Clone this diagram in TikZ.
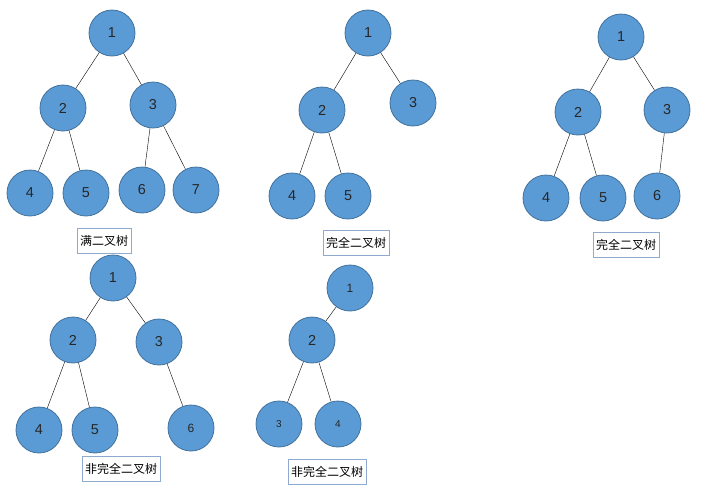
\documentclass[tikz,border=0pt]{standalone}
\usepackage{fontspec}
\newfontfamily\cjk{Noto Sans CJK SC}
\setmainfont{Liberation Sans}
\definecolor{nodefill}{HTML}{5B9BD5}
\definecolor{nodeline}{HTML}{41719C}
\definecolor{boxline}{HTML}{8FAACC}
\begin{document}
\begin{tikzpicture}[x=1pt,y=-1pt,
	vtx/.style={circle,fill=nodefill,draw=nodeline,line width=0.8pt,minimum size=46pt,inner sep=0pt,font=\Large,text=black!85},
	tag/.style={draw=boxline,fill=white,font=\cjk\large,inner sep=3pt,minimum height=25pt}]
	\useasboundingbox (0,0) rectangle (708,491);
	%满二叉树
	\node[vtx] (a1) at (112,33) {1};
	\node[vtx] (a2) at (63,108) {2};
	\node[vtx] (a3) at (153,105) {3};
	\node[vtx] (a4) at (30,193) {4};
	\node[vtx] (a5) at (86,193) {5};
	\node[vtx] (a6) at (142,190) {6};
	\node[vtx] (a7) at (196,190) {7};
	\foreach \p/\c in {a1/a2,a1/a3,a2/a4,a2/a5,a3/a6,a3/a7}{
		\draw (\p) -- (\c);
	}
	\node[tag] (ta) at (104,241) {满二叉树};
	%完全二叉树
	\node[vtx] (b1) at (368,33) {1};
	\node[vtx] (b2) at (322,110) {2};
	\node[vtx] (b3) at (413,103) {3};
	\node[vtx] (b4) at (292,196) {4};
	\node[vtx] (b5) at (348,196) {5};
	\foreach \p/\c in {b1/b2,b1/b3,b2/b4,b2/b5}{
		\draw (\p) -- (\c);
	}
	\node[tag] (tb) at (356,243) {完全二叉树};
	%完全二叉树
	\node[vtx] (c1) at (621,37) {1};
	\node[vtx] (c2) at (578,112) {2};
	\node[vtx] (c3) at (667,110) {3};
	\node[vtx] (c4) at (546,198) {4};
	\node[vtx] (c5) at (603,198) {5};
	\node[vtx] (c6) at (657,196) {6};
	\foreach \p/\c in {c1/c2,c1/c3,c2/c4,c2/c5,c3/c6}{
		\draw (\p) -- (\c);
	}
	\node[tag] (tc) at (626,245) {完全二叉树};
	%非完全二叉树
	\node[vtx] (d1) at (113,278) {1};
	\node[vtx] (d2) at (73,340) {2};
	\node[vtx] (d3) at (159,342) {3};
	\node[vtx] (d4) at (39,430) {4};
	\node[vtx] (d5) at (95,430) {5};
	\node[vtx,font=\large] (d6) at (191,428) {6};
	\foreach \p/\c in {d1/d2,d1/d3,d2/d4,d2/d5,d3/d6}{
		\draw (\p) -- (\c);
	}
	\node[tag] (td) at (121,469) {非完全二叉树};
	%非完全二叉树
	\node[vtx,font=\large] (e1) at (350,288) {1};
	\node[vtx] (e2) at (312,340) {2};
	\node[vtx,font=\normalsize] (e3) at (279,424) {3};
	\node[vtx,font=\normalsize] (e4) at (338,424) {4};
	\foreach \p/\c in {e1/e2,e2/e3,e2/e4}{
		\draw (\p) -- (\c);
	}
	\node[tag] (te) at (327,472) {非完全二叉树};
\end{tikzpicture}
\end{document}
